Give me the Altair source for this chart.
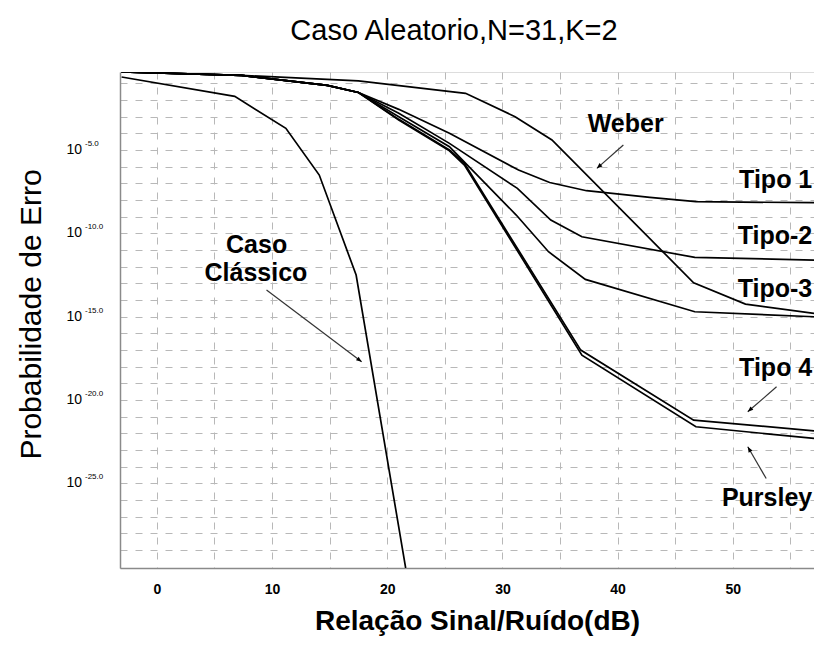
import math
import altair as alt
import pandas as pd

# ---------------- data (SNR in dB, log10 of error probability) ----------------
snr_caso = [-3.06, 6.76, 11.2, 14.1, 17.3, 21.6]
log_caso = [-0.62, -1.78, -3.7, -6.5, -12.5, -30.07]

snr_weber = [-3.06, 7.35, 17.5, 26.8, 31.1, 34.3, 46.6, 51.1, 57.05]
log_weber = [-0.32, -0.52, -0.85, -1.6, -3.0, -4.4, -12.96, -14.24, -14.8]

snr_tipo1 = [-3.06, 7.35, 14.8, 17.5, 21.0, 25.4, 31.4, 34.1, 37.3, 42.8, 46.8, 57.05]
log_tipo1 = [-0.32, -0.52, -1.12, -1.55, -2.56, -4.0, -6.2, -6.95, -7.44, -7.84, -8.1, -8.16]

snr_tipo2 = [-3.06, 7.35, 14.8, 17.5, 21.0, 25.4, 31.3, 34.2, 36.9, 46.7, 57.05]
log_tipo2 = [-0.32, -0.52, -1.12, -1.55, -2.8, -4.6, -7.3, -9.2, -10.2, -11.44, -11.6]

snr_tipo3 = [-3.06, 7.35, 14.8, 17.5, 21.0, 25.4, 31.2, 34.0, 37.2, 46.7, 57.05]
log_tipo3 = [-0.32, -0.52, -1.12, -1.55, -3.0, -4.8, -8.9, -11.1, -12.76, -14.7, -15.0]

snr_tipo4 = [-3.06, 7.35, 14.8, 17.5, 21.0, 25.4, 26.7, 36.8, 46.6, 57.05]
log_tipo4 = [-0.32, -0.52, -1.12, -1.55, -3.16, -5.0, -5.8, -17.0, -21.2, -21.84]

snr_pursley = [-3.06, 7.35, 14.8, 17.5, 21.0, 25.4, 26.7, 36.9, 46.8, 57.05]
log_pursley = [-0.32, -0.52, -1.12, -1.55, -3.2, -5.05, -5.9, -17.3, -21.6, -22.3]

series = {
    "Caso Clássico": (snr_caso, log_caso),
    "Weber": (snr_weber, log_weber),
    "Tipo 1": (snr_tipo1, log_tipo1),
    "Tipo 2": (snr_tipo2, log_tipo2),
    "Tipo 3": (snr_tipo3, log_tipo3),
    "Tipo 4": (snr_tipo4, log_tipo4),
    "Pursley": (snr_pursley, log_pursley),
}

# annotations
ann_text = ["Weber", "Tipo 1", "Tipo-2", "Tipo-3", "Tipo 4", "Pursley", "Caso", "Clássico"]
ann_x = [40.7, 56.9, 56.9, 56.9, 56.9, 56.9, 8.66, 8.6]
ann_log = [-3.44, -6.8, -10.16, -13.34, -18.1, -25.9, -10.7, -12.4]
ann_align = ["center", "right", "right", "right", "right", "right", "center", "center"]

arrow_x1 = [40.5, 9.52, 53.8, 52.9]
arrow_log1 = [-4.7, -13.4, -19.2, -24.7]
arrow_x2 = [38.2, 17.78, 51.3, 51.3]
arrow_log2 = [-6.1, -17.7, -20.7, -22.8]

# y tick labels
ytick_exp = [-5, -10, -15, -20, -25]
ytick_base = ["10", "10", "10", "10", "10"]
ytick_sup = ["-5.0", "-10.0", "-15.0", "-20.0", "-25.0"]

# x ticks
xtick_vals = [0, 5, 10, 15, 20, 25, 30, 35, 40, 45, 50, 55]

# ---------------- layout ----------------
W, H = 694, 496
XDOM = [-3.2, 57.05]
LDOM = [-30.07, -0.32]
FONT = "Liberation Sans"

xs = alt.Scale(domain=XDOM, nice=False, zero=False)
ys = alt.Scale(type="log", domain=[10 ** LDOM[0], 10 ** LDOM[1]], nice=False)

X_AX = alt.Axis(
    values=xtick_vals,
    labelExpr="datum.value % 10 == 0 ? datum.label : ''",
    ticks=False, grid=True, gridDash=[7, 8], gridColor="#b8b8b8", gridWidth=1,
    domainColor="#8a8a8a", domainWidth=1.5,
    labelFont=FONT, labelFontSize=14, labelFontWeight="bold", labelColor="black",
    labelPadding=14,
    title="Relação Sinal/Ruído(dB)", titleFont=FONT, titleFontSize=28,
    titleFontWeight="bold", titleColor="black",
    titleX=357, titleY=53, titleBaseline="middle", titleAlign="center")
Y_AX = alt.Axis(
    values=[10 ** (-k) for k in range(1, 30)],
    labels=False, ticks=False, grid=True, gridDash=[7, 8], gridColor="#b8b8b8",
    gridWidth=1, domainColor="#8a8a8a", domainWidth=1.5,
    title="Probabilidade de Erro", titleFont=FONT, titleFontSize=30,
    titleFontWeight="normal", titleColor="black",
    titleX=-89, titleY=242, titleAngle=270, titleAlign="center",
    titleBaseline="middle")


def X(f):
    return alt.X(f, scale=xs, axis=X_AX)


def Y(f):
    return alt.Y(f, scale=ys, axis=Y_AX)


rows = []
for name, (xv, lv) in series.items():
    for i, (a, b) in enumerate(zip(xv, lv)):
        rows.append({"serie": name, "x": a, "pe": 10 ** b, "o": i})
df = pd.DataFrame(rows)

lines = alt.Chart(df).mark_line(color="black", strokeWidth=1.7, clip=True).encode(
    x=X("x:Q"), y=Y("pe:Q"), detail="serie:N", order="o:Q")

ann_df = pd.DataFrame({"t": ann_text, "x": ann_x,
                       "pe": [10 ** v for v in ann_log], "al": ann_align})
txt_center = alt.Chart(ann_df[ann_df.al == "center"]).mark_text(
    font=FONT, fontSize=25, fontWeight="bold", color="black", align="center",
    baseline="middle").encode(x=X("x:Q"), y=Y("pe:Q"), text="t:N")
txt_right = alt.Chart(ann_df[ann_df.al == "right"]).mark_text(
    font=FONT, fontSize=25, fontWeight="bold", color="black", align="right",
    baseline="middle").encode(x=X("x:Q"), y=Y("pe:Q"), text="t:N")

# arrow angle computed from scale geometry
sx = W / (XDOM[1] - XDOM[0])
sy = H / (LDOM[1] - LDOM[0])
angles = []
for a1, l1, a2, l2 in zip(arrow_x1, arrow_log1, arrow_x2, arrow_log2):
    dxp = (a2 - a1) * sx
    dyp = -(l2 - l1) * sy
    angles.append(math.degrees(math.atan2(dxp, -dyp)) % 360)

arr_df = pd.DataFrame({"x": arrow_x1, "pe": [10 ** v for v in arrow_log1],
                       "x2": arrow_x2, "pe2": [10 ** v for v in arrow_log2],
                       "ang": angles})
arrow_lines = alt.Chart(arr_df).mark_rule(color="#333333", strokeWidth=1.2).encode(
    x=X("x:Q"), y=Y("pe:Q"), x2="x2:Q", y2="pe2:Q")
arrow_heads = alt.Chart(arr_df).mark_point(
    shape="M0,0L-0.4,1L0.4,1Z", filled=True, color="black", opacity=1, size=120,
    strokeWidth=0).encode(
    x=X("x2:Q"), y=Y("pe2:Q"), angle=alt.Angle("ang:Q", scale=None))

yt_df = pd.DataFrame({"pe": [10.0 ** v for v in ytick_exp], "b": ytick_base, "s": ytick_sup})
yt_base = alt.Chart(yt_df).mark_text(font=FONT, fontSize=14, color="black",
                                     align="right", baseline="middle").encode(
    x=alt.value(-38), y=Y("pe:Q"), text="b:N")
yt_sup = alt.Chart(yt_df).mark_text(font=FONT, fontSize=8, color="black",
                                    align="left", baseline="middle", dy=-6).encode(
    x=alt.value(-35), y=Y("pe:Q"), text="s:N")

chart = alt.layer(lines, arrow_lines, arrow_heads, txt_center, txt_right, yt_base, yt_sup).properties(
    width=W, height=H,
    title=alt.TitleParams("Caso Aleatorio,N=31,K=2", font=FONT, fontSize=29,
                          fontWeight="normal", color="black", anchor="middle",
                          dx=-13, offset=26),
    autosize=alt.AutoSizeParams(type="none"),
    padding={"left": 112, "top": 64, "right": 0, "bottom": 70},
).configure_view(stroke=None).configure(background="white")

chart.save("out.html", embed_options={"renderer": "svg", "actions": False})
